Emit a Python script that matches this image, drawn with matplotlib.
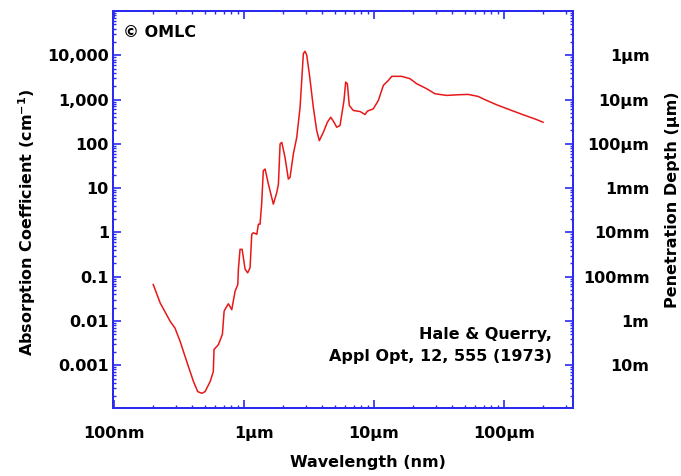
import matplotlib
matplotlib.use("Agg")
import matplotlib.pyplot as plt
from matplotlib.transforms import ScaledTranslation
from matplotlib.ticker import LogLocator, NullFormatter, FixedLocator, FixedFormatter

# Absorption spectrum of liquid water (Hale & Querry 1973)
wavelength_nm = [200, 226, 270, 294, 322, 362, 408, 440, 473, 501, 548, 580, 587, 634,
                 681, 702, 714, 757, 804, 853, 895, 904, 931, 966, 1018, 1065, 1112, 1146,
                 1180, 1253, 1289, 1327, 1365, 1406, 1451, 1539, 1680, 1785, 1838, 1893,
                 1951, 2066, 2191, 2257, 2395, 2543, 2698, 2860, 2946, 3036, 3178, 3411,
                 3622, 3794, 4074, 4374, 4645, 4924, 5164, 5476, 5875, 6053, 6234, 6454,
                 6929, 7805, 8531, 8880, 9880, 10800, 11800, 12900, 13700, 16300, 18900,
                 21300, 25400, 29400, 36200, 44500, 53100, 63400, 73600, 87900, 111000,
                 141000, 178000, 200000]
absorption_cm = [0.0665, 0.0255, 0.0098, 0.0069, 0.00345, 0.00121, 0.000427, 0.000253,
                 0.000232, 0.000253, 0.000427, 0.00072, 0.00227, 0.0029, 0.00497, 0.0165,
                 0.0183, 0.0244, 0.018, 0.047, 0.0665, 0.146, 0.414, 0.414, 0.148, 0.122,
                 0.159, 0.906, 0.98, 0.906, 1.53, 1.53, 4.34, 24.7, 27, 12.3, 4.34, 7.95,
                 12.3, 99.5, 108, 49.4, 16, 17.4, 59, 140, 673, 10930, 12320, 10000, 3846,
                 673, 199, 118, 182, 307, 399, 307, 237, 259, 955, 2480, 2280, 735, 566,
                 537, 459, 546, 618, 955, 2088, 2711, 3345, 3345, 2964, 2280, 1757, 1355,
                 1240, 1284, 1306, 1175, 955, 762, 587, 452, 354, 307]

x_ticks = [100, 1000, 10000, 100000]
x_labels = ["100nm", "1\u00b5m", "10\u00b5m", "100\u00b5m"]
alpha_ticks = [1e4, 1e3, 1e2, 1e1, 1, 0.1, 0.01, 0.001]
alpha_labels = ["10,000", "1,000", "100", "10", "1", "0.1", "0.01", "0.001"]
depth_labels = ["1\u00b5m", "10\u00b5m", "100\u00b5m", "1mm", "10mm", "100mm", "1m", "10m"]

BLUE = "#2a2af0"
RED = "#e81818"
FONT = dict(family="DejaVu Sans", weight="bold", size=11.5)

fig = plt.figure(figsize=(6.81, 4.76), dpi=100)
ax = fig.add_axes([113 / 681, 1 - 408 / 476, 460 / 681, 397 / 476])

ax.plot(wavelength_nm, absorption_cm, color=RED, lw=1.1)
ax.set_xscale("log")
ax.set_yscale("log")
ax.set_xlim(98, 3.4e5)
ax.set_ylim(1.08e-4, 1.0e5)

ax.xaxis.set_major_locator(FixedLocator(x_ticks))
ax.xaxis.set_major_formatter(FixedFormatter(x_labels))
ax.xaxis.set_minor_locator(LogLocator(base=10, subs=range(2, 10), numticks=20))
ax.xaxis.set_minor_formatter(NullFormatter())
ax.yaxis.set_major_locator(FixedLocator(alpha_ticks))
ax.yaxis.set_major_formatter(FixedFormatter(alpha_labels))
ax.yaxis.set_minor_locator(LogLocator(base=10, subs=range(2, 10), numticks=20))
ax.yaxis.set_minor_formatter(NullFormatter())

ax.tick_params(axis="both", which="both", direction="in", color=BLUE, top=True, right=False)
ax.tick_params(axis="both", which="major", length=6, width=1.2)
ax.tick_params(axis="both", which="minor", length=2.5, width=1)
ax.tick_params(axis="x", which="major", pad=13)
ax.tick_params(axis="y", which="major", pad=3)
for lab in ax.get_xticklabels() + ax.get_yticklabels():
    lab.set_fontfamily(FONT["family"])
    lab.set_fontweight(FONT["weight"])
    lab.set_fontsize(FONT["size"])

# the "1µm" label sits a little right of its tick
fig.canvas.draw()
one_um = ax.get_xticklabels()[1]
one_um.set_transform(one_um.get_transform() + ScaledTranslation(10 / 100, 0, fig.dpi_scale_trans))

# Right-hand axis: penetration depth = 1 / absorption coefficient
ax2 = ax.twinx()
ax2.set_yscale("log")
ax2.set_ylim(ax.get_ylim())
ax2.yaxis.set_major_locator(FixedLocator(alpha_ticks))
ax2.yaxis.set_major_formatter(FixedFormatter(depth_labels))
ax2.yaxis.set_minor_locator(LogLocator(base=10, subs=range(2, 10), numticks=20))
ax2.yaxis.set_minor_formatter(NullFormatter())
ax2.tick_params(axis="y", which="both", direction="in", color=BLUE)
ax2.tick_params(axis="y", which="major", length=6, width=1.2, pad=55)
ax2.tick_params(axis="y", which="minor", length=2.5, width=1)
for lab in ax2.get_yticklabels():
    lab.set_fontfamily(FONT["family"])
    lab.set_fontweight(FONT["weight"])
    lab.set_fontsize(FONT["size"])
    lab.set_horizontalalignment("right")

for a in (ax, ax2):
    for sp in a.spines.values():
        sp.set_color(BLUE)
        sp.set_linewidth(1.3)

ax.text(0.022, 0.945, "\u00a9 OMLC", transform=ax.transAxes, ha="left", va="center", **FONT)
ax.text(0.955, 0.157, "Hale & Querry,\nAppl Opt, 12, 555 (1973)", transform=ax.transAxes,
        ha="right", va="center", linespacing=1.55, **FONT)

fig.text(368 / 681, 1 - 462 / 476, "Wavelength (nm)", ha="center", va="center", **FONT)
fig.text(27 / 681, 1 - 222 / 476, "Absorption Coefficient (cm$^{\\mathbf{-1}}$)",
         ha="center", va="center", rotation=90, **FONT)
fig.text(673 / 681, 1 - 200 / 476, "Penetration Depth (\u00b5m)",
         ha="center", va="center", rotation=90, **FONT)

fig.savefig("out.png", dpi=100)
